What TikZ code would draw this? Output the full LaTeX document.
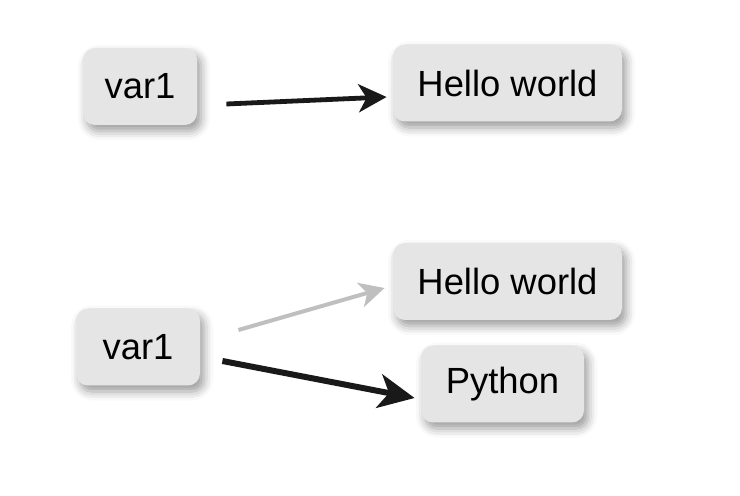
\documentclass[tikz,border=0pt]{standalone}
\usepackage{fontspec}
\setmainfont{Liberation Sans}
\usetikzlibrary{arrows.meta,shadows.blur}

\begin{document}
\begin{tikzpicture}[x=0.5pt,y=-0.5pt]
        \useasboundingbox (0,0) rectangle (740,496);

        \begin{scope}[every node/.style={rounded corners=6pt,fill=black!10,inner sep=0pt,
            minimum height=38.5pt,font=\fontsize{18.2}{21}\selectfont,
            blur shadow={shadow xshift=2pt,shadow yshift=-3pt,shadow blur radius=4.5pt,shadow opacity=40}}]
          \node[minimum width=57pt]   (v1)  at (140,86.5)  {var1};
          \node[minimum width=114.5pt] (hw1) at (507.5,83)  {Hello world};
          \node[minimum width=62pt]   (v2)  at (138,347)   {var1};
          \node[minimum width=114.5pt] (hw2) at (507.5,281.5) {Hello world};
          \node[minimum width=81.5pt] (py)  at (502.5,384)  {Python};
        \end{scope}

        \begin{scope}[every edge/.style={draw,color=black!90,line width=2.4pt,-{Stealth[length=14pt,width=14pt,inset=4pt]}}]
          \path ([shift={(29,17.5)}]v1.east) edge ([shift={(-6,14)}]hw1.west);
          \path ([shift={(38,-17)}]v2.east)  edge[color=black!25,line width=2pt,-{Stealth[length=12.5pt,width=12.5pt,inset=3.5pt]}] ([shift={(-8,6.5)}]hw2.west);
          \path ([shift={(22,14)}]v2.east)   edge[line width=3pt,-{Stealth[length=18pt,width=17pt,inset=5pt]}] ([shift={(-6,14)}]py.west);
        \end{scope}

      \end{tikzpicture}
\end{document}
